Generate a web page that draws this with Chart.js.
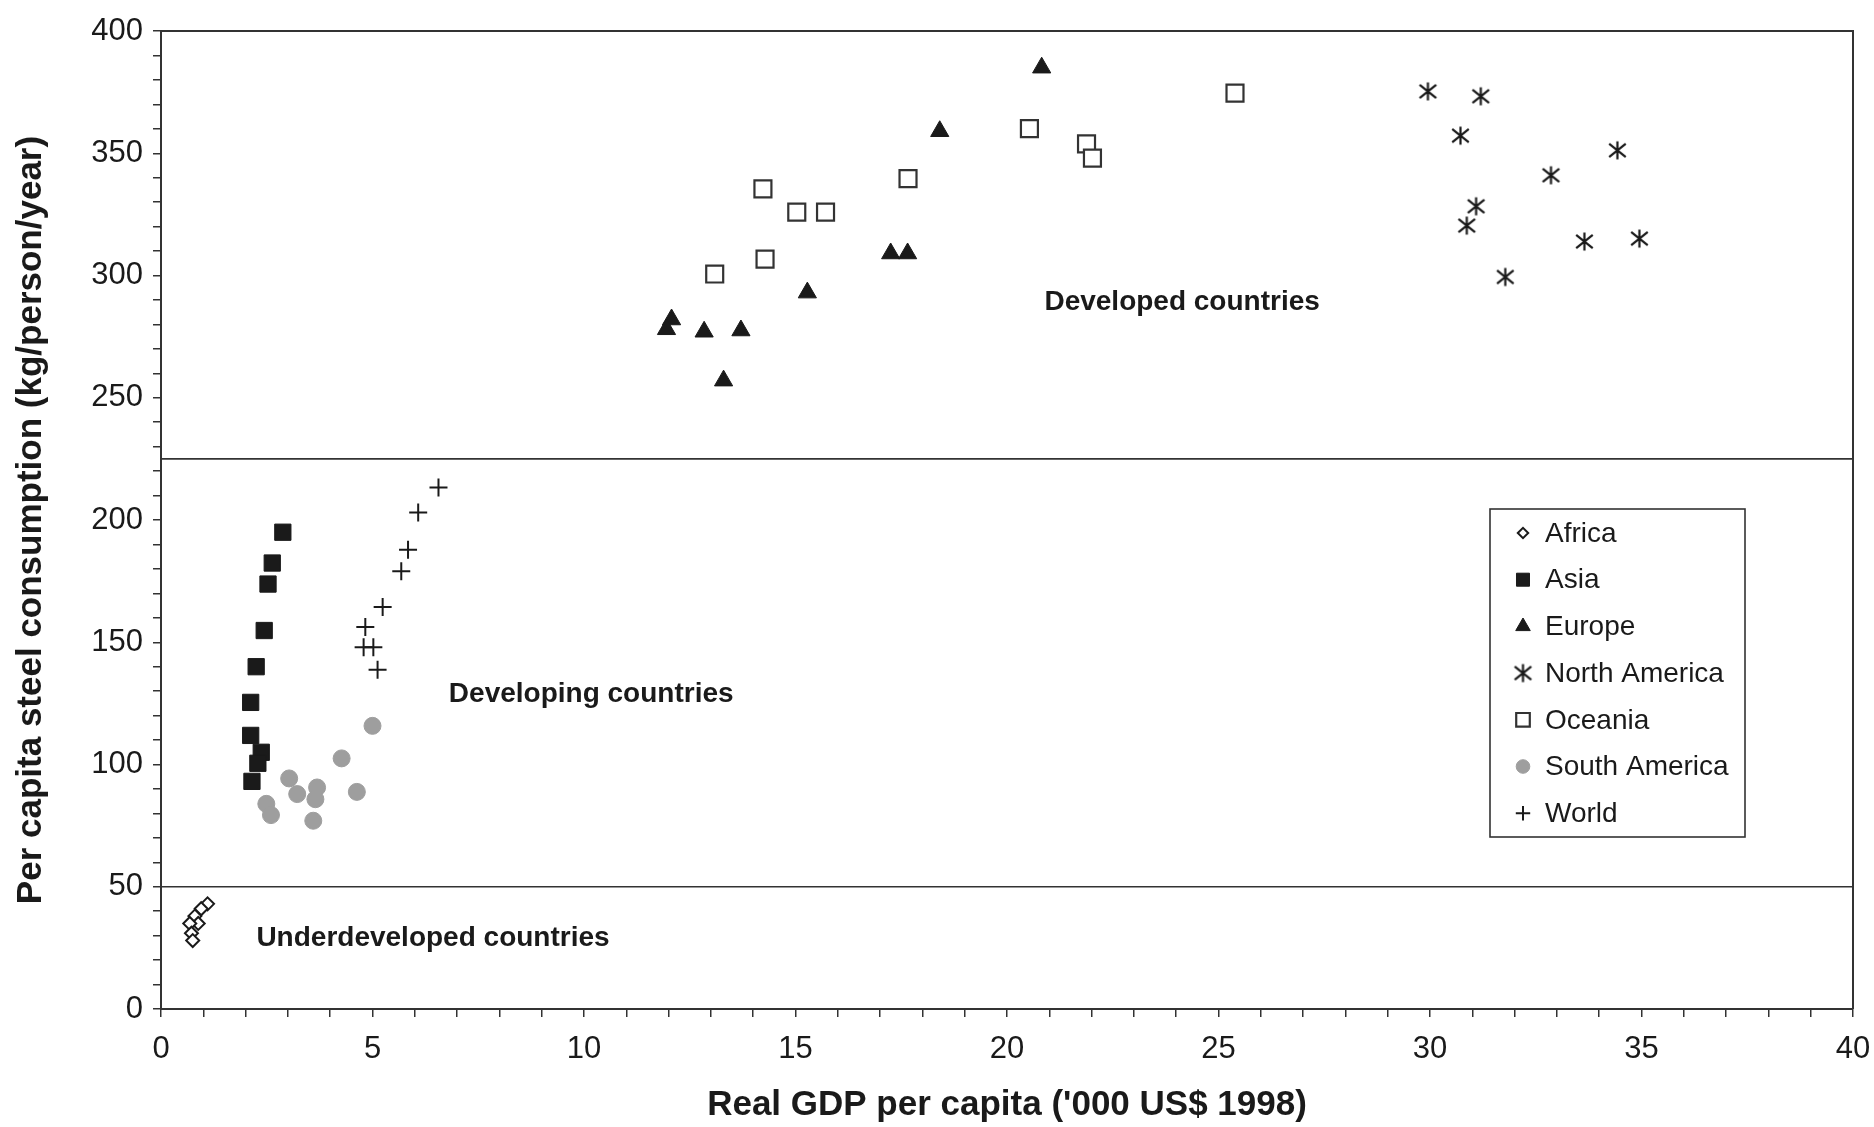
<!DOCTYPE html>
<html>
<head>
<meta charset="utf-8">
<script src="https://cdn.jsdelivr.net/npm/chart.js@4.4.1/dist/chart.umd.min.js"></script>
<style>
  html, body { margin: 0; padding: 0; background: #fff; }
</style>
</head>
<body>
<canvas id="chart" width="1874" height="1127"></canvas>
<script>
// GDP per capita ('000 US$ 1998) vs steel consumption (kg/person/year)
const africaX = [1.10, 0.95, 0.80, 0.88, 0.68, 0.72, 0.75];
const africaY = [43, 41, 38, 35, 35, 31, 28];

const asiaX = [2.88, 2.63, 2.53, 2.44, 2.25, 2.12, 2.12, 2.37, 2.29, 2.15];
const asiaY = [195, 182.4, 173.8, 154.8, 140, 125.4, 111.9, 105, 100.5, 93.1];

const europeX = [20.82, 18.41, 15.28, 12.07, 11.95, 12.84, 13.71, 13.30, 17.25, 17.65];
const europeY = [385, 359, 293, 282, 278, 277, 277.5, 257, 309, 309];

const northAmX = [29.95, 31.20, 30.72, 34.43, 32.86, 31.09, 30.87, 33.65, 34.95, 31.78];
const northAmY = [375.3, 373.3, 357.2, 351.2, 341.0, 328.3, 320.4, 313.9, 315.1, 299.4];

const oceaniaX = [14.23, 15.03, 15.71, 14.28, 13.09, 17.66, 20.53, 21.88, 22.02, 25.39];
const oceaniaY = [335.4, 325.9, 325.9, 306.7, 300.6, 339.6, 360.1, 353.8, 348.0, 374.6];

const southAmX = [5.00, 4.27, 3.03, 3.22, 3.69, 3.65, 4.63, 2.49, 2.60, 3.60];
const southAmY = [115.8, 102.5, 94.3, 87.9, 90.6, 85.8, 88.8, 83.9, 79.3, 77.0];

const worldX = [6.56, 6.08, 5.84, 5.68, 5.24, 4.83, 4.79, 5.02, 5.12];
const worldY = [213.3, 203.1, 187.8, 179.0, 164.4, 156.2, 148.0, 148.0, 138.8];

// boundaries between country groups
const boundaryY = [225, 50];
const xRange = [0, 40];

const regionNames = ['Developed countries', 'Developing countries', 'Underdeveloped countries'];
const regionX = [24.14, 10.17, 6.43];
const regionY = [288.9, 128.8, 29.0];

const FONT = "'Liberation Sans', Arial, sans-serif";
const INK = '#1a1a1a';

const pts = (xs, ys) => xs.map((x, i) => ({ x, y: ys[i] }));

// asterisk marker: vertical bar plus an X
function makeAsterisk(size) {
  const c = document.createElement('canvas');
  c.width = size; c.height = size;
  const g = c.getContext('2d');
  const m = size / 2, r = size / 2 - 1.5, d = r * 0.92;
  g.strokeStyle = INK;
  g.lineWidth = 2.2;
  g.beginPath();
  g.moveTo(m, m - r); g.lineTo(m, m + r);
  g.moveTo(m - d, m - d * 0.8); g.lineTo(m + d, m + d * 0.8);
  g.moveTo(m + d, m - d * 0.8); g.lineTo(m - d, m + d * 0.8);
  g.stroke();
  return c;
}
const asterisk = makeAsterisk(21);

const series = [
  { label: 'Africa', data: pts(africaX, africaY), pointStyle: 'rectRot', pointRadius: 6.5,
    backgroundColor: '#fff', borderColor: INK, borderWidth: 2 },
  { label: 'Asia', data: pts(asiaX, asiaY), pointStyle: 'rect', pointRadius: 11.5,
    backgroundColor: INK, borderColor: INK, borderWidth: 1 },
  { label: 'Europe', data: pts(europeX, europeY), pointStyle: 'triangle', pointRadius: 10.5,
    backgroundColor: INK, borderColor: INK, borderWidth: 1 },
  { label: 'North America', data: pts(northAmX, northAmY), pointStyle: asterisk, pointRadius: 10,
    backgroundColor: INK, borderColor: INK, borderWidth: 0 },
  { label: 'Oceania', data: pts(oceaniaX, oceaniaY), pointStyle: 'rect', pointRadius: 12,
    backgroundColor: '#fff', borderColor: '#333', borderWidth: 2.2 },
  { label: 'South America', data: pts(southAmX, southAmY), pointStyle: 'circle', pointRadius: 8.5,
    backgroundColor: '#9e9e9e', borderColor: '#9e9e9e', borderWidth: 1 },
  { label: 'World', data: pts(worldX, worldY), pointStyle: 'cross', pointRadius: 9,
    backgroundColor: INK, borderColor: INK, borderWidth: 2 }
];

const lines = boundaryY.map(y => ({
  type: 'line',
  label: 'boundary ' + y,
  data: xRange.map(x => ({ x, y })),
  borderColor: '#333',
  borderWidth: 1.6,
  pointRadius: 0,
  showLine: true
}));

// top and right frame lines
const framePlugin = {
  id: 'frame',
  afterDraw(chart) {
    const { ctx, chartArea: a } = chart;
    ctx.save();
    ctx.strokeStyle = '#333';
    ctx.lineWidth = 2;
    ctx.beginPath();
    ctx.moveTo(a.left, a.top);
    ctx.lineTo(a.right, a.top);
    ctx.lineTo(a.right, a.bottom);
    ctx.stroke();
    ctx.restore();
  }
};

const regionPlugin = {
  id: 'regions',
  afterDatasetsDraw(chart) {
    const { ctx, scales } = chart;
    ctx.save();
    ctx.font = 'bold 28px ' + FONT;
    ctx.fillStyle = INK;
    ctx.textAlign = 'center';
    ctx.textBaseline = 'middle';
    regionNames.forEach((name, i) => {
      ctx.fillText(name, scales.x.getPixelForValue(regionX[i]), scales.y.getPixelForValue(regionY[i]));
    });
    ctx.restore();
  }
};

const legendPlugin = {
  id: 'boxLegend',
  afterDraw(chart) {
    const { ctx } = chart;
    const box = { x: 1490, y: 509, w: 255, h: 328 };
    ctx.save();
    ctx.fillStyle = '#fff';
    ctx.fillRect(box.x, box.y, box.w, box.h);
    ctx.strokeStyle = '#333';
    ctx.lineWidth = 1.6;
    ctx.strokeRect(box.x, box.y, box.w, box.h);
    ctx.font = '28px ' + FONT;
    ctx.textBaseline = 'middle';
    ctx.textAlign = 'left';
    series.forEach((s, i) => {
      const y = box.y + 24 + i * 46.7;
      ctx.fillStyle = s.backgroundColor;
      ctx.strokeStyle = s.borderColor;
      ctx.lineWidth = s.borderWidth;
      Chart.helpers.drawPoint(ctx, {
        pointStyle: s.pointStyle, rotation: 0,
        radius: s.pointRadius * 0.8, borderWidth: s.borderWidth
      }, box.x + 33, y);
      ctx.fillStyle = INK;
      ctx.fillText(s.label, box.x + 55, y + 1);
    });
    ctx.restore();
  }
};

new Chart(document.getElementById('chart'), {
  type: 'scatter',
  data: { datasets: [...lines, ...series] },
  options: {
    responsive: false,
    animation: false,
    layout: { padding: { top: 31, right: 21, bottom: 0, left: 0 } },
    plugins: { legend: { display: false }, tooltip: { enabled: false } },
    scales: {
      x: {
        type: 'linear', min: 0, max: 40,
        afterFit: s => { s.height = 118; s.paddingLeft = 0; s.paddingRight = 0; },
        ticks: {
          stepSize: 1, autoSkip: false, maxRotation: 0, padding: 14,
          color: INK, font: { family: FONT, size: 31 },
          callback: v => (v % 5 === 0 ? v : '')
        },
        grid: { drawOnChartArea: false, drawTicks: true, tickLength: 8, color: '#333', lineWidth: 1.5 },
        border: { color: '#333', width: 2 },
        title: {
          display: true, text: "Real GDP per capita ('000 US$ 1998)", color: INK,
          font: { family: FONT, size: 35, weight: 'bold' }, padding: { top: 0, bottom: 1 }
        }
      },
      y: {
        type: 'linear', min: 0, max: 400,
        afterFit: s => { s.width = 161; s.paddingTop = 0; s.paddingBottom = 0; },
        ticks: {
          stepSize: 10, autoSkip: false, padding: 10,
          color: INK, font: { family: FONT, size: 31 },
          callback: v => (v % 50 === 0 ? v : '')
        },
        grid: { drawOnChartArea: false, drawTicks: true, tickLength: 8, color: '#333', lineWidth: 1.5 },
        border: { color: '#333', width: 2 },
        title: {
          display: true, text: 'Per capita steel consumption (kg/person/year)', color: INK,
          font: { family: FONT, size: 35, weight: 'bold' }, padding: { top: 10, bottom: 10 }
        }
      }
    }
  },
  plugins: [framePlugin, regionPlugin, legendPlugin]
});
</script>
</body>
</html>
